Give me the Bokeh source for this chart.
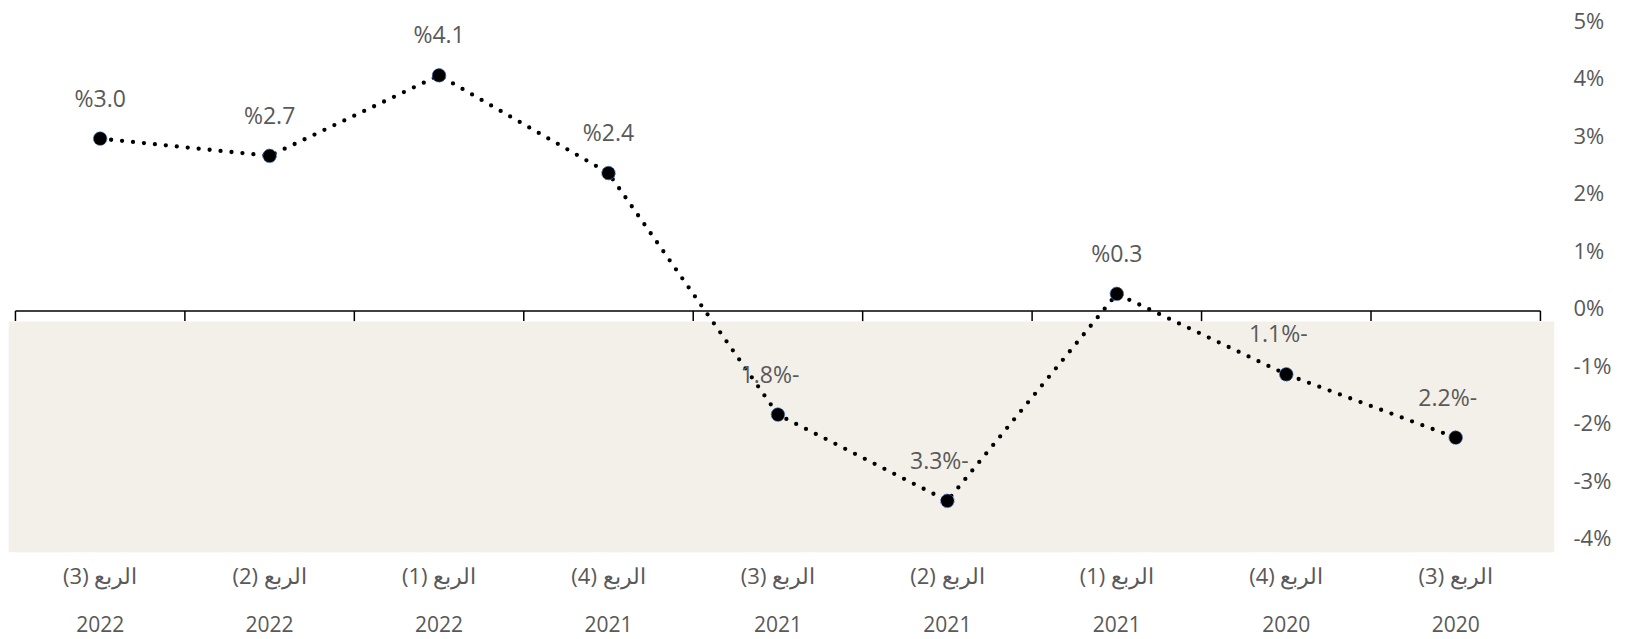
from bokeh.plotting import figure
from bokeh.models import (ColumnDataSource, BoxAnnotation, LinearAxis, FixedTicker,
                          PrintfTickFormatter, Range1d)
from bokeh.core.properties import value
from bokeh.embed import file_html
from bokeh.resources import INLINE

quarters = ["الربع (3)", "الربع (2)", "الربع (1)", "الربع (4)", "الربع (3)",
            "الربع (2)", "الربع (1)", "الربع (4)", "الربع (3)"]
years = ["2022", "2022", "2022", "2021", "2021", "2021", "2021", "2020", "2020"]
growth = [3.0, 2.7, 4.1, 2.4, -1.8, -3.3, 0.3, -1.1, -2.2]
y_ticks = [-4, -3, -2, -1, 0, 1, 2, 3, 4, 5]

n = len(growth)
xs = [i + 0.5 for i in range(n)]
labels = [("%" + f"{v:.1f}") if v >= 0 else (f"{abs(v):.1f}" + "%-") for v in growth]
xoff = [0 if v >= 0 else -8 for v in growth]

FONT = "Open Sans"
GREY = "#595959"

Y0, Y1 = -4.198, 5.263
LAB_SHIFT = 0.065  # tick labels sit slightly above their gridline value, as in the original

p = figure(width=1615, height=639, output_backend="svg", toolbar_location=None,
           x_range=Range1d(-0.041, 9.083), y_range=Range1d(Y0, Y1),
           y_axis_location=None, x_axis_location=None,
           min_border_left=8, min_border_top=8, min_border_right=61, min_border_bottom=87)
p.extra_y_ranges = {"lab": Range1d(Y0 - LAB_SHIFT, Y1 - LAB_SHIFT)}
p.outline_line_color = None
p.grid.visible = False
p.background_fill_color = "white"
p.border_fill_color = "white"

# shaded negative band
p.add_layout(BoxAnnotation(top=-0.18, fill_color="#f3f0e9", fill_alpha=1.0, line_color=None,
                           level="underlay"))

# zero axis line with boundary ticks
p.segment(x0=[0], y0=[0], x1=[n], y1=[0], line_color="black", line_width=1.5)
p.segment(x0=list(range(n + 1)), y0=[0] * (n + 1), x1=list(range(n + 1)),
          y1=[-0.174] * (n + 1), line_color="black", line_width=1.5)

src = ColumnDataSource(dict(x=xs, y=growth, lab=labels, xo=xoff))
p.line("x", "y", source=src, line_color="black", line_width=4.3, line_dash="0 11",
       line_cap="round")
p.scatter("x", "y", source=src, size=13.5, fill_color="black", line_color="#4472c4",
          line_width=1, line_dash="2 1")
p.text("x", "y", text="lab", source=src, x_offset="xo", y_offset=-41,
       text_align="center", text_baseline="middle", text_font=value(FONT),
       text_font_size="23px", text_color=GREY)

# right y axis
ya = LinearAxis(y_range_name="lab", ticker=FixedTicker(ticks=y_ticks),
                formatter=PrintfTickFormatter(format="%d%%"))
ya.axis_line_color = None
ya.major_tick_line_color = None
ya.minor_tick_line_color = None
ya.major_tick_out = 0
ya.major_tick_in = 0
ya.major_label_standoff = 19
ya.major_label_text_font = FONT
ya.major_label_text_font_size = "22px"
ya.major_label_text_color = GREY
p.add_layout(ya, "right")

# bottom category axes (quarter line, then year line)
def cat_axis(texts, standoff, size):
    ax = LinearAxis(ticker=FixedTicker(ticks=xs),
                    major_label_overrides={x: t for x, t in zip(xs, texts)})
    ax.axis_line_color = None
    ax.major_tick_line_color = None
    ax.minor_tick_line_color = None
    ax.major_tick_out = 0
    ax.major_tick_in = 0
    ax.major_label_standoff = standoff
    ax.major_label_text_font = FONT
    ax.major_label_text_font_size = size
    ax.major_label_text_color = GREY
    return ax

p.add_layout(cat_axis(["\u2067" + q + "\u2069" for q in quarters], 7, "22px"), "below")
p.add_layout(cat_axis(years, 23, "21px"), "below")

open("out.html", "w").write(file_html(p, INLINE))
